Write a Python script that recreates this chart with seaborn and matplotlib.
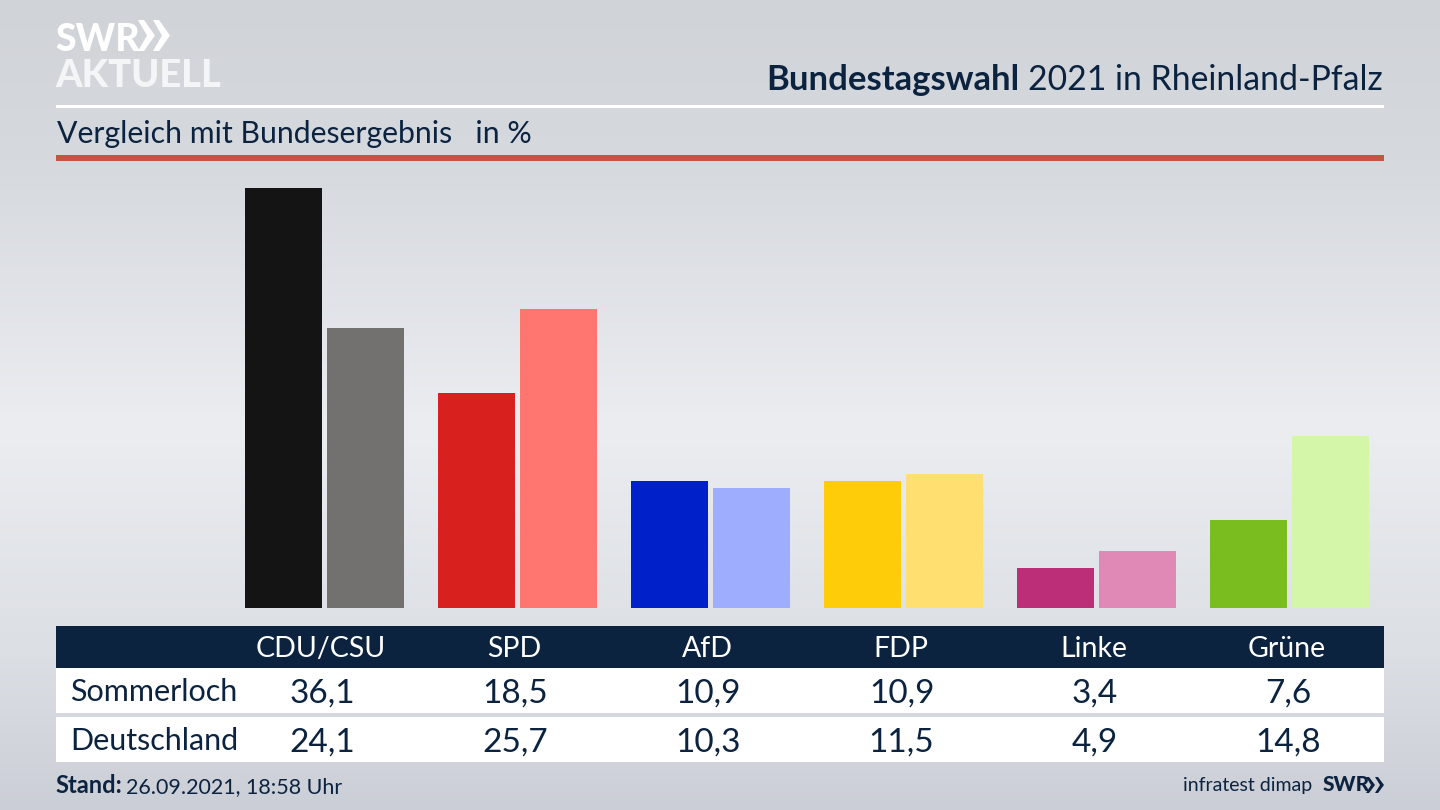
# -*- coding: utf-8 -*-
import matplotlib
matplotlib.use('Agg')
import matplotlib.pyplot as plt
from matplotlib.colors import LinearSegmentedColormap
from matplotlib.patches import Rectangle, Polygon
import seaborn as sns
import pandas as pd
import numpy as np

parties = ['CDU/CSU', 'SPD', 'AfD', 'FDP', 'Linke', 'Grüne']
regions = ['Sommerloch', 'Deutschland']
sommerloch = [36.1, 18.5, 10.9, 10.9, 3.4, 7.6]
deutschland = [24.1, 25.7, 10.3, 11.5, 4.9, 14.8]
colors_sommerloch = ['#141414', '#d8201f', '#0021c9', '#ffcc0a', '#bc2e78', '#7abd1e']
colors_deutschland = ['#72716f', '#ff7570', '#9fadff', '#ffdf70', '#e088b6', '#d3f6a8']

NAVY = '#0c2340'
FONT = 'Lato'

df = pd.DataFrame({
    'Partei': parties * 2,
    'Gebiet': [regions[0]] * 6 + [regions[1]] * 6,
    'Wert': sommerloch + deutschland,
})

sns.set_theme(style='white')
plt.rcParams['font.family'] = [FONT, 'DejaVu Sans']

fig = plt.figure(figsize=(14.4, 8.1), dpi=100)

# full figure axes in pixel coordinates, for background, header and table
bg = fig.add_axes([0, 0, 1, 1], zorder=0)
bg.set_xlim(0, 1440)
bg.set_ylim(810, 0)
bg.axis('off')
cmap = LinearSegmentedColormap.from_list(
    'bg', [(0, '#d0d3d8'), (0.2, '#d6d9de'), (0.53, '#ebedf1'), (0.8, '#dcdfe4'), (1, '#cbced6')])
bg.imshow(np.linspace(0, 1, 256).reshape(-1, 1), cmap=cmap, aspect='auto',
          extent=(0, 1440, 810, 0), zorder=0)

# rules
bg.add_patch(Rectangle((56, 105), 1328, 2.6, color='white', lw=0))
bg.add_patch(Rectangle((56, 155), 1328, 5.5, color='#c9533f', lw=0))

# logo
bg.text(55, 51, 'SWR', color='white', fontsize=27, fontweight='black', va='baseline')
bg.text(55, 87, 'AKTUELL', color='#f4f5f7', fontsize=27.4, fontweight='black', va='baseline')
for x0 in (138, 153):
    bg.add_patch(Polygon([(x0, 20), (x0 + 6, 20), (x0 + 17, 35.5), (x0 + 6, 51), (x0, 51), (x0 + 9, 35.5)],
                         color='white', lw=0))

# titles
bg.text(1383, 90, '2021 in Rheinland-Pfalz', color=NAVY, fontsize=24.3, ha='right', va='baseline')
bg.text(1019, 90, 'Bundestagswahl', color=NAVY, fontsize=24.9, fontweight='bold', ha='right', va='baseline')
bg.text(57, 143, 'Vergleich mit Bundesergebnis   in %', color=NAVY, fontsize=21.8, va='baseline')

# table
bg.add_patch(Rectangle((56, 626), 1328, 42, color=NAVY, lw=0))
bg.add_patch(Rectangle((56, 668), 1328, 45, color='white', lw=0))
bg.add_patch(Rectangle((56, 717), 1328, 45, color='white', lw=0))

col_x = 321 + 193.2 * np.arange(len(parties))
for x, party, v1, v2 in zip(col_x, parties, sommerloch, deutschland):
    bg.text(x, 657, party, color='white', fontsize=20.5, ha='center', va='baseline')
    bg.text(x + 1, 702.5, f'{v1:.1f}'.replace('.', ','), color=NAVY, fontsize=24, ha='center', va='baseline')
    bg.text(x + 1, 751.5, f'{v2:.1f}'.replace('.', ','), color=NAVY, fontsize=24, ha='center', va='baseline')
bg.text(70, 701, regions[0], color=NAVY, fontsize=22, va='baseline')
bg.text(70, 750, regions[1], color=NAVY, fontsize=22, va='baseline')

# footer
bg.text(122, 793, 'Stand:', color=NAVY, fontsize=17, fontweight='bold', ha='right', va='baseline')
bg.text(126, 793, '26.09.2021, 18:58 Uhr', color=NAVY, fontsize=15.5, va='baseline')
bg.text(1312, 791, 'infratest dimap', color=NAVY, fontsize=14, ha='right', va='baseline')
bg.text(1323, 791, 'SWR', color=NAVY, fontsize=15, fontweight='black', va='baseline')
for x0 in (1366, 1375):
    bg.add_patch(Polygon([(x0, 777), (x0 + 3, 777), (x0 + 9, 785), (x0 + 3, 793), (x0, 793), (x0 + 5, 785)],
                         color=NAVY, lw=0))

# bars, axes placed so that a value unit is about 11.63 px
ax = fig.add_axes([228 / 1440, 1 - 608 / 810, (1386 - 228) / 1440, (608 - 165) / 810], zorder=1)
ax.patch.set_alpha(0)
sns.barplot(data=df, x='Partei', y='Wert', hue='Gebiet', order=parties, hue_order=regions,
            width=0.85, gap=0.061, legend=False, ax=ax, saturation=1)
for bar, c in zip(ax.containers[0], colors_sommerloch):
    bar.set_facecolor(c)
    bar.set_edgecolor('none')
for bar, c in zip(ax.containers[1], colors_deutschland):
    bar.set_facecolor(c)
    bar.set_edgecolor('none')
ax.set_xlim(-0.5, 5.5)
ax.set_ylim(0, 443 / 11.63)
ax.axis('off')

fig.savefig('out.png', dpi=100)
